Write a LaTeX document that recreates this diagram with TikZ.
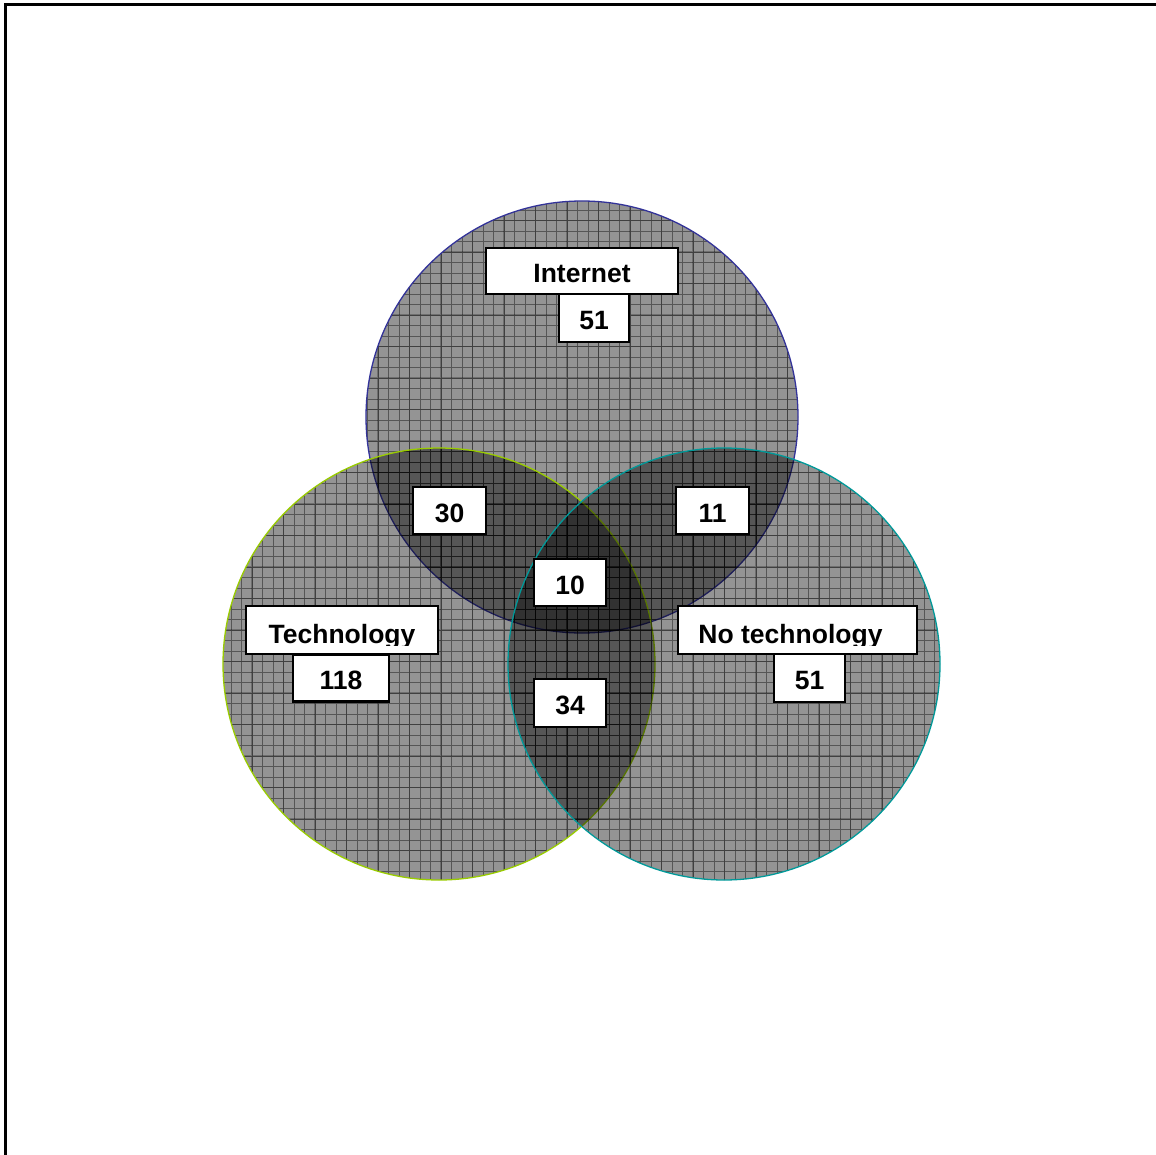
\documentclass[tikz,border=0pt]{standalone}
\usepackage{fontspec}
\setmainfont{Liberation Sans}
\definecolor{cInt}{HTML}{333399}
\definecolor{cTech}{HTML}{99CC00}
\definecolor{cNo}{HTML}{009999}
\begin{document}
\begin{tikzpicture}[x=1pt,y=-1pt,
  lblfont/.style={font=\fontsize{26.5}{30}\selectfont\bfseries, text height=23pt, text depth=0pt},
  box/.style={draw=black, line width=2.6pt, fill=white, inner sep=0pt},
  set/.style={fill=black, fill opacity=0.42, line width=1.3pt},
  gridline/.style={black, opacity=0.42, line width=0.8pt}]
\useasboundingbox (0,0) rectangle (1156,1155);
\draw[line width=3pt] (5,1175) -- (5,5) -- (1175,5);

% sets
\foreach \cx/\cy/\col/\nm in {582/417/cInt/int, 439/664/cTech/tech, 724/664/cNo/no}{
  \fill[set] (\cx,\cy) circle (216);
  \begin{scope}
    \clip (\cx,\cy) circle (216);
    \draw[gridline, step=10.5pt] (\cx-220,\cy+220) grid (\cx+220,\cy-220);
    \draw[gridline, opacity=0.25, line width=1.2pt, step=31.5pt] (\cx-220,\cy+220) grid (\cx+220,\cy-220);
  \end{scope}
  \draw[\col, line width=1.3pt] (\cx,\cy) circle (216);
}

% Internet
\node[box, lblfont, minimum width=192pt, minimum height=46pt] (bInt) at (582,271) {Internet};
\node[box, lblfont, minimum width=70pt, minimum height=48pt] (nInt) at (594,318) {51};

% Technology
\node[box, minimum width=192pt, minimum height=48pt] (bTech) at (342,630) {};
\begin{scope}
  \clip (246,606) rectangle (438,645);
  \node[font=\fontsize{26.5}{30}\selectfont\bfseries, inner sep=0pt, anchor=base] (tTech) at (342,643) {Technology};
\end{scope}
\node[box, lblfont, minimum width=96pt, minimum height=47pt] (nTech) at (341,678) {118};

% No technology
\node[box, minimum width=239pt, minimum height=48pt] (bNo) at (797.5,630) {};
\begin{scope}
  \clip (678,606) rectangle (917,645);
  \node[font=\fontsize{26.5}{30}\selectfont\bfseries, inner sep=0pt, anchor=base] (tNo) at (790.5,643) {No technology};
\end{scope}
\node[box, lblfont, minimum width=71pt, minimum height=48pt] (nNo) at (809.5,678) {51};

% intersections
\node[box, lblfont, minimum width=73pt, minimum height=47pt] (nIT) at (449.5,510.5) {30};
\node[box, lblfont, minimum width=73pt, minimum height=47pt] (nIN) at (712.5,510.5) {11};
\node[box, lblfont, minimum width=72pt, minimum height=47pt] (nAll) at (570,582.5) {10};
\node[box, lblfont, minimum width=72pt, minimum height=48pt] (nTN) at (570,703) {34};
\end{tikzpicture}
\end{document}
